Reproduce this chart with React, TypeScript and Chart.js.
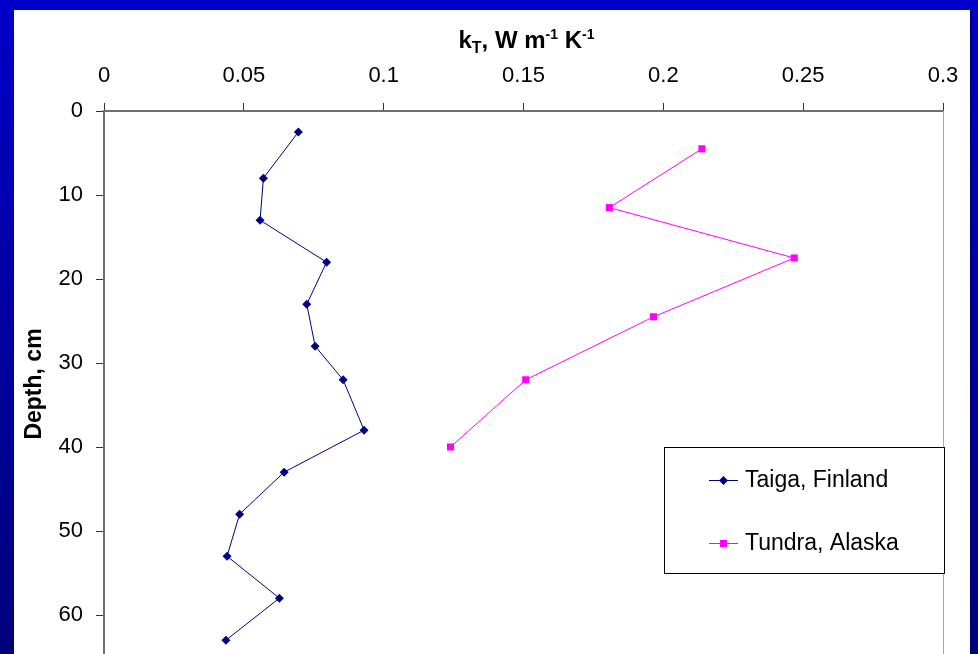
import React, { useEffect, useRef } from "react";
import { Chart, registerables } from "chart.js";

Chart.register(...registerables);

// ---- Data ----
const taigaConductivity = [0.0695, 0.057, 0.0558, 0.0796, 0.0725, 0.0755, 0.0855, 0.093, 0.0644, 0.0485, 0.044, 0.0627, 0.0436];
const taigaDepth = [2.5, 8, 13, 18, 23, 28, 32, 38, 43, 48, 53, 58, 63];
const tundraConductivity = [0.2138, 0.1807, 0.2468, 0.1965, 0.1508, 0.1239];
const tundraDepth = [4.5, 11.5, 17.5, 24.5, 32, 40];
const seriesNames = ["Taiga, Finland", "Tundra, Alaska"];
const xTickValues = [0, 0.05, 0.1, 0.15, 0.2, 0.25, 0.3];
const yTickValues = [0, 10, 20, 30, 40, 50, 60];
const yTitle = "Depth, cm";

const FONT = "'Liberation Sans', Arial, sans-serif";

function drawMarker(ctx: CanvasRenderingContext2D, style: string, x: number, y: number, color: string) {
  ctx.save();
  ctx.fillStyle = color;
  ctx.beginPath();
  if (style === "rectRot") {
    const r = 4.5;
    ctx.moveTo(x, y - r);
    ctx.lineTo(x + r, y);
    ctx.lineTo(x, y + r);
    ctx.lineTo(x - r, y);
    ctx.closePath();
  } else {
    const s = 7;
    ctx.rect(x - s / 2, y - s / 2, s, s);
  }
  ctx.fill();
  ctx.restore();
}

const decorPlugin = {
  id: "decor",
  afterDraw(chart: any) {
    const { ctx, chartArea } = chart;
    ctx.save();
    // right border of the plot area
    ctx.strokeStyle = "#a8a8a8";
    ctx.lineWidth = 1;
    ctx.beginPath();
    ctx.moveTo(chartArea.right + 0.5, chartArea.top);
    ctx.lineTo(chartArea.right + 0.5, chartArea.bottom + 20);
    ctx.stroke();

    // top axis title with sub/superscripts
    const parts = [
      { t: "k", size: 24, dy: 0 },
      { t: "T", size: 16, dy: 5 },
      { t: ", W m", size: 24, dy: 0 },
      { t: "-1", size: 14, dy: -9 },
      { t: " K", size: 24, dy: 0 },
      { t: "-1", size: 14, dy: -9 },
    ];
    let total = 0;
    const widths = parts.map((p) => {
      ctx.font = `bold ${p.size}px ${FONT}`;
      const w = ctx.measureText(p.t).width;
      total += w;
      return w;
    });
    let x = (chartArea.left + chartArea.right) / 2 + 3 - total / 2;
    const baseY = chartArea.top - 63;
    ctx.fillStyle = "#000000";
    ctx.textBaseline = "alphabetic";
    ctx.textAlign = "left";
    parts.forEach((p, i) => {
      ctx.font = `bold ${p.size}px ${FONT}`;
      ctx.fillText(p.t, x, baseY + p.dy);
      x += widths[i];
    });

    // legend box
    const boxRight = chartArea.right + 1;
    const boxW = 280;
    const boxH = 126;
    const boxLeft = boxRight - boxW;
    const boxTop = chartArea.top + 336;
    ctx.fillStyle = "#ffffff";
    ctx.fillRect(boxLeft, boxTop, boxW, boxH);
    ctx.strokeStyle = "#000000";
    ctx.lineWidth = 1;
    ctx.strokeRect(boxLeft + 0.5, boxTop + 0.5, boxW, boxH);
    const rows = [boxTop + 33, boxTop + 96];
    chart.data.datasets.forEach((ds: any, i: number) => {
      const y = rows[i];
      ctx.strokeStyle = ds.borderColor;
      ctx.lineWidth = 1;
      ctx.beginPath();
      ctx.moveTo(boxLeft + 45, y + 0.5);
      ctx.lineTo(boxLeft + 74, y + 0.5);
      ctx.stroke();
      drawMarker(ctx, ds.pointStyle, boxLeft + 59.5, y + 0.5, ds.pointBackgroundColor);
      ctx.fillStyle = "#000000";
      ctx.font = `23px ${FONT}`;
      ctx.textBaseline = "middle";
      ctx.fillText(ds.label, boxLeft + 81, y + 1);
    });
    ctx.restore();
  },
};

export default function App() {
  const canvasRef = useRef<HTMLCanvasElement | null>(null);

  useEffect(() => {
    if (!canvasRef.current) return;
    Chart.defaults.font.family = FONT;
    const chart = new Chart(canvasRef.current, {
      type: "scatter",
      data: {
        datasets: [
          {
            label: seriesNames[0],
            data: taigaConductivity.map((v, i) => ({ x: v, y: taigaDepth[i] })),
            showLine: true,
            borderColor: "#000080",
            backgroundColor: "#000080",
            pointBackgroundColor: "#000080",
            pointBorderColor: "#000080",
            borderWidth: 1,
            pointStyle: "rectRot",
            pointRadius: 4.5,
            pointBorderWidth: 0,
          },
          {
            label: seriesNames[1],
            data: tundraConductivity.map((v, i) => ({ x: v, y: tundraDepth[i] })),
            showLine: true,
            borderColor: "#ff00ff",
            backgroundColor: "#ff00ff",
            pointBackgroundColor: "#ff00ff",
            pointBorderColor: "#ff00ff",
            borderWidth: 1,
            pointStyle: "rect",
            pointRadius: 5,
            pointBorderWidth: 0,
          },
        ],
      },
      options: {
        responsive: false,
        animation: false,
        layout: { padding: { left: 0, top: 0, right: 27, bottom: 53 } },
        plugins: {
          legend: { display: false },
          tooltip: { enabled: false },
          title: { display: false },
        },
        scales: {
          x: {
            type: "linear",
            position: "top",
            min: 0,
            max: 0.3,
            afterBuildTicks: (scale: any) => {
              scale.ticks = xTickValues.map((v) => ({ value: v }));
            },
            afterFit: (scale: any) => {
              scale.height = 101;
              scale.paddingLeft = 0;
              scale.paddingRight = 0;
            },
            ticks: {
              color: "#000000",
              font: { size: 22 },
              padding: 14,
              maxRotation: 0,
              autoSkip: false,
              callback: (v: any) => String(v),
            },
            grid: { drawOnChartArea: false, drawTicks: true, tickLength: 8, tickColor: "#333333", tickWidth: 1 },
            border: { display: true, color: "#6e6e6e", width: 2 },
          },
          y: {
            type: "linear",
            reverse: true,
            min: 0,
            max: 65,
            afterBuildTicks: (scale: any) => {
              scale.ticks = yTickValues.map((v) => ({ value: v }));
            },
            afterFit: (scale: any) => {
              scale.width = 90;
              scale.paddingTop = 0;
              scale.paddingBottom = 0;
            },
            ticks: {
              color: "#000000",
              font: { size: 22 },
              padding: 13,
              autoSkip: false,
              callback: (v: any) => String(v),
            },
            title: {
              display: true,
              text: yTitle,
              color: "#000000",
              font: { size: 23, weight: "bold" },
              padding: { top: 7, bottom: 0 },
            },
            grid: { drawOnChartArea: false, drawTicks: true, tickLength: 8, tickColor: "#333333", tickWidth: 1 },
            border: { display: true, color: "#6e6e6e", width: 2 },
          },
        },
      },
      plugins: [decorPlugin],
    } as any);
    return () => chart.destroy();
  }, []);

  return (
    <div
      style={{
        position: "fixed",
        left: 0,
        top: 0,
        width: 978,
        height: 654,
        overflow: "hidden",
        background: "linear-gradient(to bottom, #0000c8, #00007c)",
      }}
    >
      <div
        style={{
          position: "absolute",
          left: 14,
          top: 10,
          width: 956,
          height: 700,
          background: "#ffffff",
          borderRight: "2px solid #000070",
        }}
      >
        <canvas ref={canvasRef} width={956} height={700} style={{ display: "block", width: 956, height: 700 }} />
      </div>
    </div>
  );
}
